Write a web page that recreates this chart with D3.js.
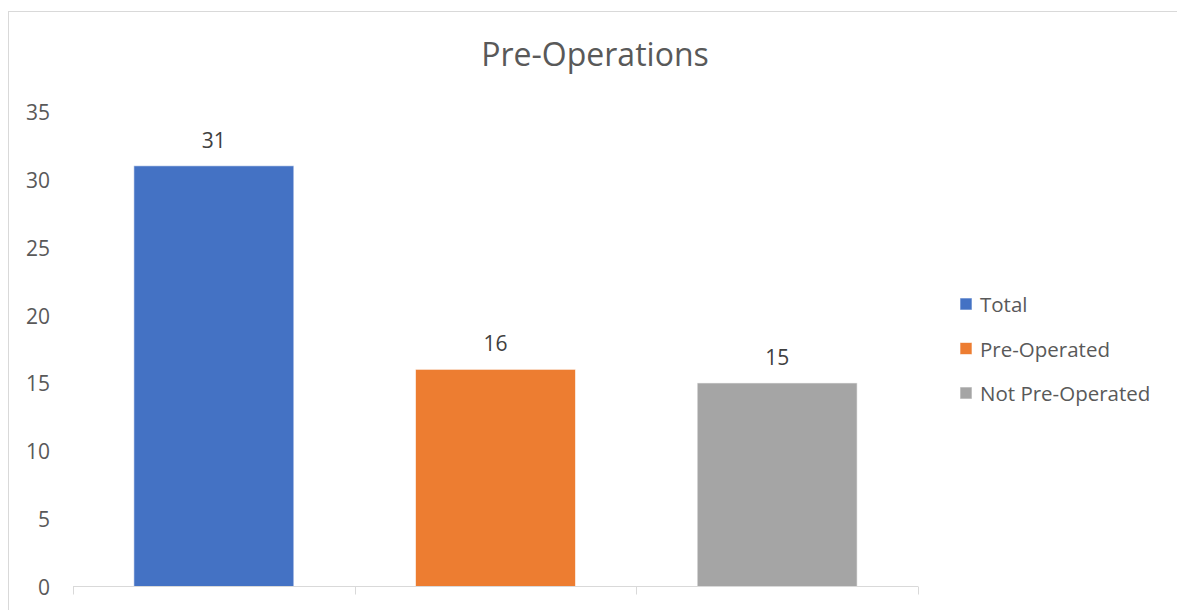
<!DOCTYPE html>
<html>
<head>
<meta charset="utf-8">
<script src="https://cdn.jsdelivr.net/npm/d3@7"></script>
<style>
  html, body { margin: 0; padding: 0; background: #ffffff; }
  svg { display: block; }
  text { font-family: "Open Sans", "Noto Sans", sans-serif; }
</style>
</head>
<body>
<svg id="chart" width="1177" height="610"></svg>
<script>
// ---- data ----
const title = "Pre-Operations";
const categories = ["Total", "Pre-Operated", "Not Pre-Operated"];
const values = [31, 16, 15];
const colors = ["#4472C4", "#ED7D31", "#A5A5A5"];
const yTicks = [0, 5, 10, 15, 20, 25, 30, 35];

// ---- layout ----
const svg = d3.select("#chart");
const plot = { left: 73, right: 918, top: 111.5, bottom: 586.5 };

// chart border (extends past the frame on right/bottom like the reference)
svg.append("rect")
  .attr("x", 8.5).attr("y", 11.5)
  .attr("width", 1200).attr("height", 640)
  .attr("fill", "none").attr("stroke", "#d9d9d9").attr("stroke-width", 1);

const pIn = 0.432;
const x = d3.scaleBand()
  .domain(categories)
  .range([plot.left, plot.right])
  .paddingInner(pIn)
  .paddingOuter(pIn / 2);

const y = d3.scaleLinear().domain([0, 35]).range([plot.bottom, plot.top]);

// title
svg.append("text")
  .attr("x", 595).attr("y", 66)
  .attr("text-anchor", "middle")
  .attr("fill", "#595959")
  .style("font-size", "32px")
  .text(title);

// y axis labels (no axis line)
const yAxis = d3.axisLeft(y).tickValues(yTicks).tickSize(0).tickPadding(0);
const gy = svg.append("g").attr("transform", "translate(50,0)").call(yAxis);
gy.select(".domain").remove();
gy.selectAll("text")
  .attr("fill", "#595959")
  .attr("dy", null)
  .attr("dominant-baseline", "central")
  .style("font-size", "21px")
  .style("font-family", "'Open Sans', sans-serif");

// bars
svg.append("g").selectAll("rect")
  .data(categories)
  .join("rect")
  .attr("x", d => x(d))
  .attr("y", (d, i) => y(values[i]))
  .attr("width", x.bandwidth())
  .attr("height", (d, i) => y(0) - y(values[i]))
  .attr("fill", (d, i) => colors[i])
  .attr("stroke", "#ffffff")
  .attr("stroke-opacity", 0.6)
  .attr("stroke-width", 1);

// x axis baseline with boundary ticks
const boundaries = categories.map(c => x(c) - x.step() * pIn / 2)
  .concat([x(categories[categories.length - 1]) + x.bandwidth() + x.step() * pIn / 2]);
const gx = svg.append("g");
gx.append("line")
  .attr("x1", plot.left).attr("x2", plot.right)
  .attr("y1", y(0)).attr("y2", y(0))
  .attr("stroke", "#d9d9d9").attr("stroke-width", 1);
gx.selectAll("line.tick")
  .data(boundaries)
  .join("line")
  .attr("class", "tick")
  .attr("x1", d => Math.round(d) + 0.5).attr("x2", d => Math.round(d) + 0.5)
  .attr("y1", y(0)).attr("y2", y(0) + 8)
  .attr("stroke", "#d9d9d9").attr("stroke-width", 1);

// data labels
svg.append("g").selectAll("text")
  .data(categories)
  .join("text")
  .attr("x", d => x(d) + x.bandwidth() / 2)
  .attr("y", (d, i) => y(values[i]) - 18)
  .attr("text-anchor", "middle")
  .attr("fill", "#404040")
  .style("font-size", "21px")
  .text((d, i) => values[i]);

// legend
const legend = svg.append("g");
const rowY = d3.scalePoint().domain(categories).range([304, 393]);
const item = legend.selectAll("g").data(categories).join("g")
  .attr("transform", d => `translate(960,${rowY(d)})`);
item.append("rect")
  .attr("x", 0).attr("y", -6).attr("width", 12).attr("height", 12)
  .attr("fill", (d, i) => colors[i])
  .attr("stroke", "#ffffff").attr("stroke-opacity", 0.6);
item.append("text")
  .attr("x", 20).attr("y", 0)
  .attr("dominant-baseline", "central")
  .attr("fill", "#595959")
  .style("font-size", "20.5px")
  .text(d => d);
</script>
</body>
</html>
